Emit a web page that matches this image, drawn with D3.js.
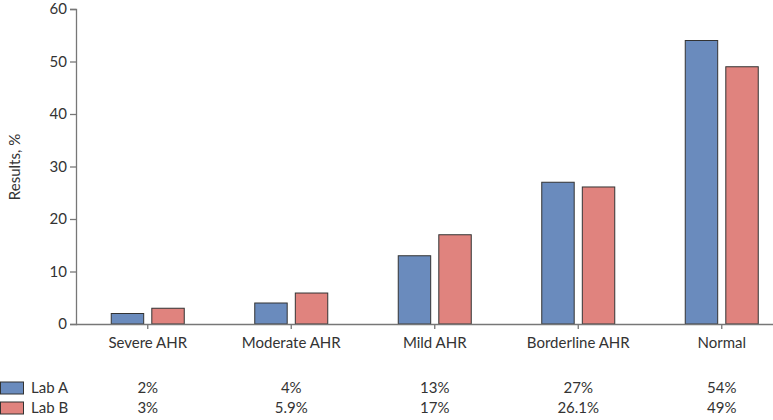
<!DOCTYPE html>
<html><head><meta charset="utf-8">
<script src="https://cdn.jsdelivr.net/npm/d3@7"></script>
<style>body{margin:0;background:#fff}svg{display:block}text{font-family:Lato,"Noto Sans",sans-serif;fill:#333}</style>
</head><body><svg id="c" width="773" height="420"></svg>
<script>
const categories = ["Severe AHR","Moderate AHR","Mild AHR","Borderline AHR","Normal"];
const labA = [2,4,13,27,54];
const labB = [3,5.9,17,26.1,49];
const labALabels = ["2%","4%","13%","27%","54%"];
const labBLabels = ["3%","5.9%","17%","26.1%","49%"];
const seriesNames = ["Lab A","Lab B"];
const colors = ["#6a8bbd","#e0837e"];
const yTicks = [0,10,20,30,40,50,60];

const svg = d3.select("#c");
const x0 = 76, y0 = 324;
const fs = "15px";
const x = d3.scaleBand().domain(categories).range([x0, 793.5]);
const xs = d3.scaleBand().domain(seriesNames).range([0, 73]).paddingInner(0.2);
const y = d3.scaleLinear().domain([0,60]).range([y0, 9]);

// bars
const series = [labA, labB];
series.forEach((vals, si) => {
  svg.append("g").selectAll("rect").data(categories).join("rect")
    .attr("x", d => x(d) + x.bandwidth()/2 - 36.5 + xs(seriesNames[si]))
    .attr("y", (d,i) => y(vals[i]))
    .attr("width", xs.bandwidth())
    .attr("height", (d,i) => y0 - y(vals[i]))
    .attr("fill", colors[si]).attr("stroke", "#333").attr("stroke-width", 1);
});

// y axis
const ya = svg.append("g").attr("transform", `translate(${x0},0)`)
  .call(d3.axisLeft(y).tickValues(yTicks).tickSize(6).tickPadding(3));
ya.selectAll("path,line").attr("stroke", "#777").attr("stroke-width", 1.3);
ya.selectAll("text").style("font-size", fs).attr("fill", "#333");

// x axis
const xa = svg.append("g").attr("transform", `translate(0,${y0})`)
  .call(d3.axisBottom(x).tickSize(5).tickSizeOuter(0).tickPadding(8));
xa.select("path").attr("d", `M${x0},0.5H773`);
xa.selectAll("path,line").attr("stroke", "#777").attr("stroke-width", 1.3);
xa.selectAll("text").style("font-size", fs).attr("fill", "#333");

// y label
svg.append("text").attr("transform", "translate(20,167) rotate(-90)")
  .attr("text-anchor", "middle").style("font-size", fs).text("Results, %");

// table
const rowsY = [388, 408];
const labels = [labALabels, labBLabels];
seriesNames.forEach((n, si) => {
  svg.append("rect").attr("x", 0.5).attr("y", rowsY[si] - 6).attr("width", 23).attr("height", 12)
    .attr("fill", colors[si]).attr("stroke", "#333");
  svg.append("text").attr("x", 31).attr("y", rowsY[si]).attr("dy", "0.35em")
    .style("font-size", fs).text(n);
  svg.append("g").selectAll("text").data(categories).join("text")
    .attr("x", d => x(d) + x.bandwidth()/2).attr("y", rowsY[si]).attr("dy", "0.35em")
    .attr("text-anchor", "middle").style("font-size", fs)
    .text((d,i) => labels[si][i]);
});
</script></body></html>
